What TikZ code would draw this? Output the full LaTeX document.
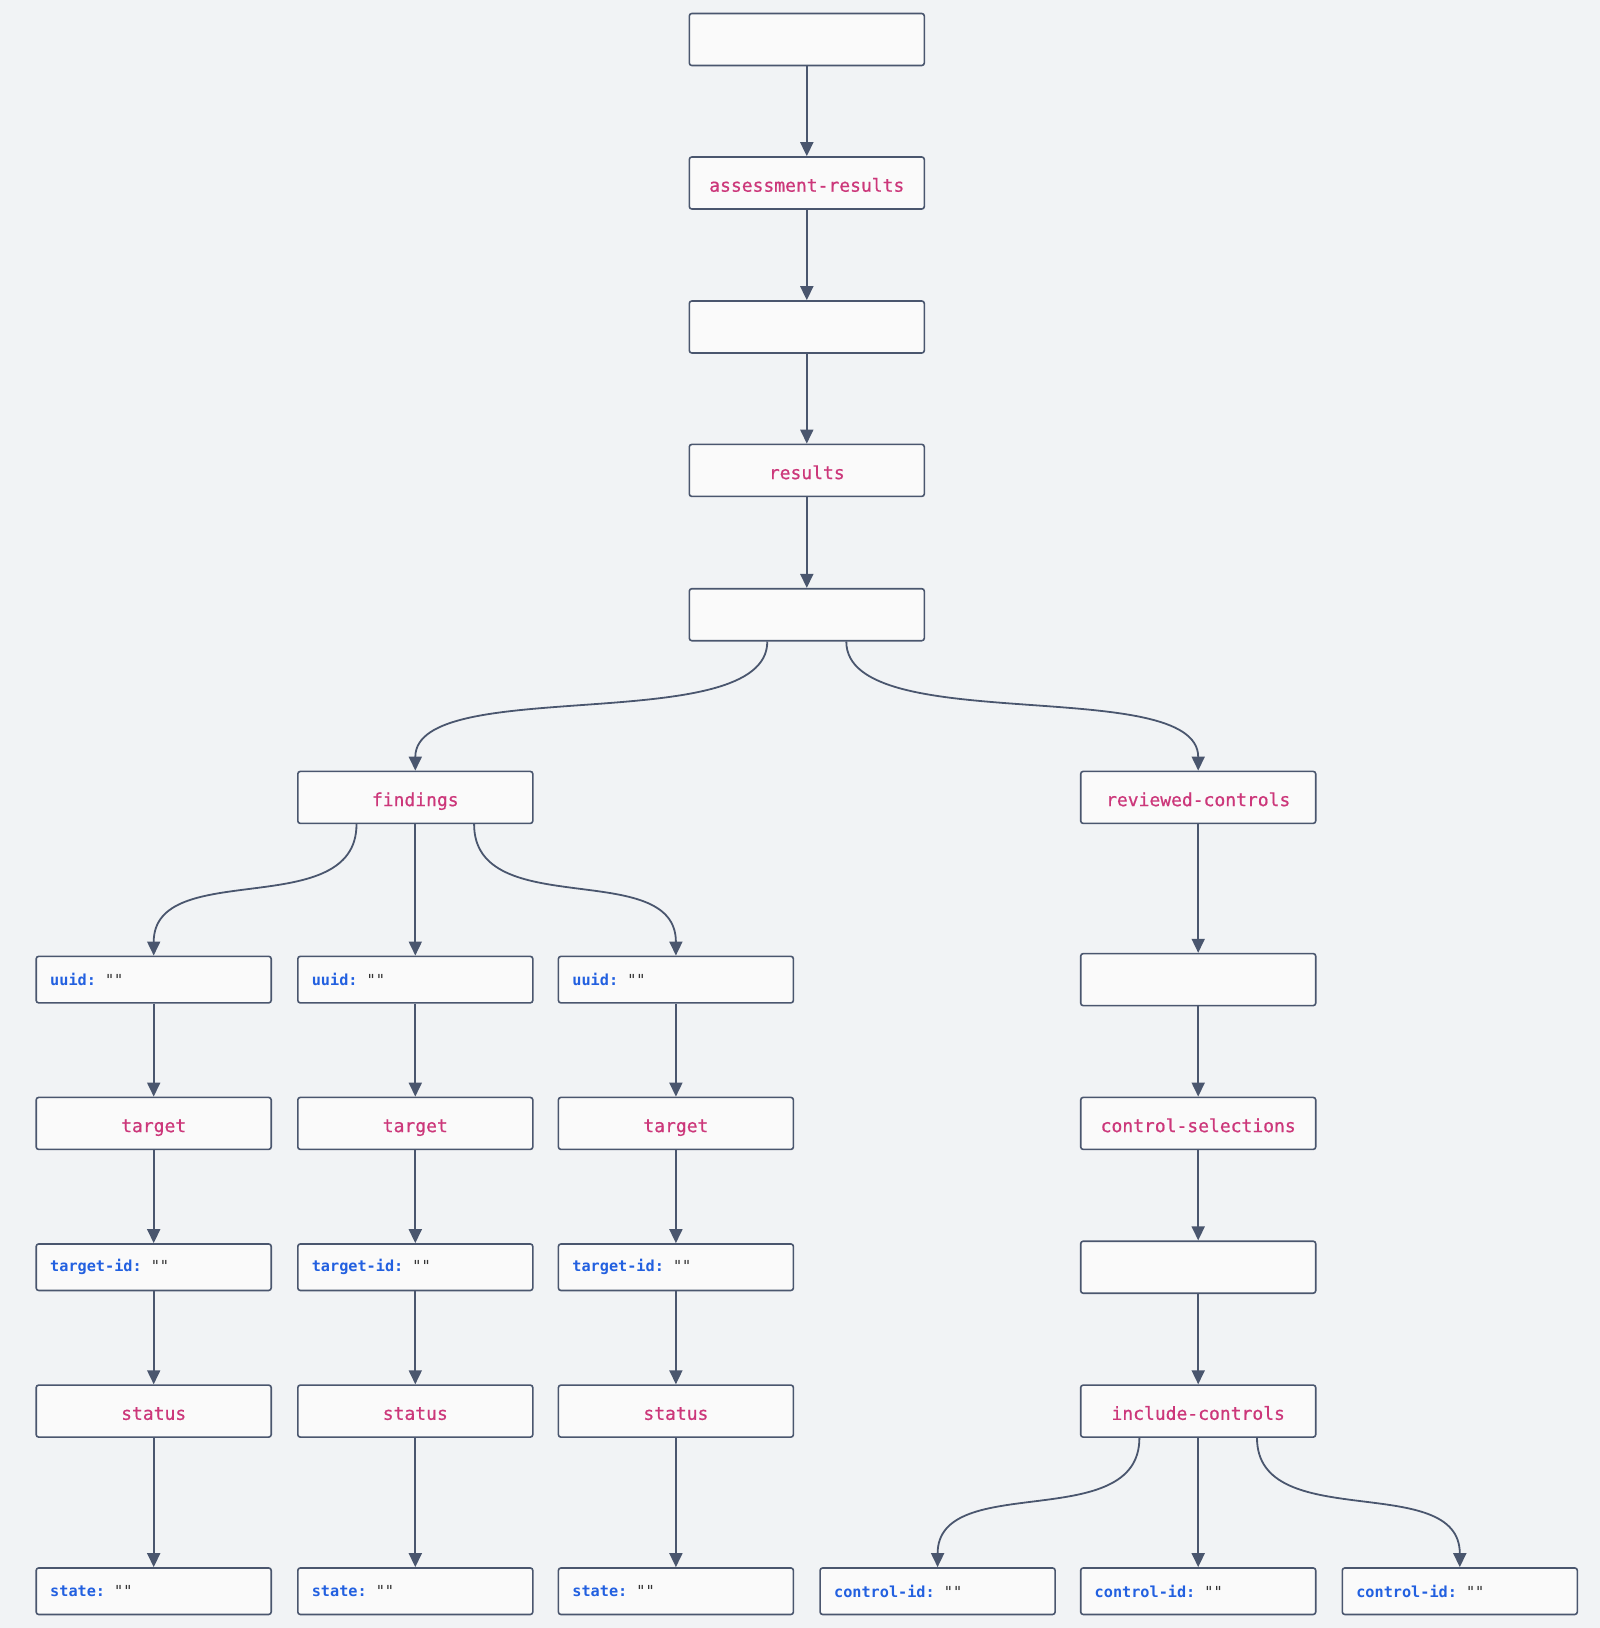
\documentclass[tikz,border=0pt]{standalone}
\usepackage{fontspec}
\setmonofont{DejaVu Sans Mono}
\newfontfamily\labelmono[FakeBold=0.7]{DejaVu Sans Mono}
\usetikzlibrary{arrows.meta,calc}

\definecolor{canvas}{RGB}{241,243,245}
\definecolor{boxfill}{RGB}{250,250,250}
\definecolor{edgecol}{RGB}{74,86,110}
\definecolor{tagpink}{RGB}{204,55,122}
\definecolor{keyblue}{RGB}{34,96,224}
\definecolor{quotegray}{RGB}{51,51,51}

% key: "" label
\newcommand\kv[1]{{\bfseries\color{keyblue}#1:}\hspace{0.6em}{\color{quotegray}""}}

\tikzset{
  box/.style={draw=edgecol, fill=boxfill, line width=1.6pt, rounded corners=2.5pt,
    minimum width=235pt, minimum height=52pt, inner sep=0pt,
    text height=17.4pt, text depth=0pt,
    font=\labelmono\fontsize{18}{20}\selectfont, text=tagpink},
  kvbox/.style={box, minimum height=46.5pt, text width=207pt, align=left,
    text height=, text depth=,
    inner xsep=14pt, font=\ttfamily\fontsize{15.2}{17}\selectfont},
  edge/.style={draw=edgecol, line width=1.8pt, -{Triangle[length=14pt,width=13pt]}},
  sbend/.style={to path={let \p1=(\tikztostart),\p2=(\tikztotarget) in
    .. controls (\x1,{\y1+0.75*(\y2-\y1)}) and (\x2,{\y2-0.75*(\y2-\y1)}) .. (\tikztotarget)}},
}

\begin{document}
\begin{tikzpicture}[x=1pt,y=-1pt]
  \fill[canvas] (0,0) rectangle (1600,1628);
  \useasboundingbox (0,0) rectangle (1600,1628);

  % main spine
  \node[box] (root) at (806.8,39.5) {};
  \node[box] (ar)   at (806.8,183)  {assessment-results};
  \node[box] (b3)   at (806.8,327)  {};
  \node[box] (res)  at (806.8,470.4) {results};
  \node[box] (b5)   at (806.8,614.7) {};

  \node[box] (fi) at (415.3,797.4)  {findings};
  \node[box] (rc) at (1198.2,797.4) {reviewed-controls};

  % findings columns
  \foreach \i/\x in {1/153.7,2/415.3,3/675.9}{
    \node[kvbox] (u\i)  at (\x,979.6)  {\kv{uuid}};
    \node[box]   (t\i)  at (\x,1123.4) {target};
    \node[kvbox] (ti\i) at (\x,1267.2) {\kv{target-id}};
    \node[box]   (s\i)  at (\x,1411.1) {status};
    \node[kvbox] (st\i) at (\x,1591.2) {\kv{state}};
    \draw[edge] (u\i) -- (t\i);
    \draw[edge] (t\i) -- (ti\i);
    \draw[edge] (ti\i) -- (s\i);
    \draw[edge] (s\i) -- (st\i);
  }

  % reviewed-controls column
  \node[box] (rc1) at (1198.2,979.6)  {};
  \node[box] (cs)  at (1198.2,1123.4) {control-selections};
  \node[box] (rc2) at (1198.2,1267.2) {};
  \node[box] (ic)  at (1198.2,1411.1) {include-controls};
  \node[kvbox] (ci1) at (937.6,1591.2)  {\kv{control-id}};
  \node[kvbox] (ci2) at (1198.2,1591.2) {\kv{control-id}};
  \node[kvbox] (ci3) at (1459.8,1591.2) {\kv{control-id}};

  % connectors
  \draw[edge] (root) -- (ar);
  \draw[edge] (ar) -- (b3);
  \draw[edge] (b3) -- (res);
  \draw[edge] (res) -- (b5);
  \draw[edge] ([xshift=-39.5pt]b5.south) to[sbend] (fi.north);
  \draw[edge] ([xshift=39.5pt]b5.south) to[sbend] (rc.north);

  \draw[edge] ([xshift=-58.8pt]fi.south) to[sbend] (u1.north);
  \draw[edge] (fi) -- (u2);
  \draw[edge] ([xshift=58.8pt]fi.south) to[sbend] (u3.north);

  \draw[edge] (rc) -- (rc1);
  \draw[edge] (rc1) -- (cs);
  \draw[edge] (cs) -- (rc2);
  \draw[edge] (rc2) -- (ic);
  \draw[edge] ([xshift=-58.8pt]ic.south) to[sbend] (ci1.north);
  \draw[edge] (ic) -- (ci2);
  \draw[edge] ([xshift=58.8pt]ic.south) to[sbend] (ci3.north);
\end{tikzpicture}
\end{document}
